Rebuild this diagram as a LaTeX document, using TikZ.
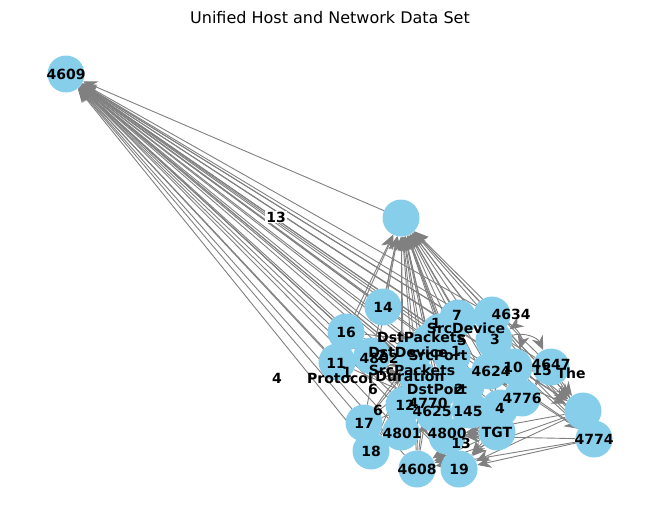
\documentclass[tikz,border=0pt]{standalone}
\usepackage{fontspec}
\setmainfont{DejaVu Sans}
\usetikzlibrary{arrows.meta}
\pgfdeclarelayer{bg}\pgfdeclarelayer{fg}
\pgfsetlayers{bg,main,fg}
\definecolor{sky}{HTML}{87CEEB}
\tikzset{
  nd/.style={circle,fill=sky,minimum size=37pt,inner sep=0pt},
  lb/.style={font=\fontsize{14}{15}\selectfont\bfseries,inner sep=0pt},
  ed/.style={draw=gray,line width=0.9pt,-{Stealth[length=14pt,width=12pt]}},
  el/.style={font=\fontsize{14}{15}\selectfont\bfseries,fill=white,inner sep=1pt}
}
\begin{document}
\begin{tikzpicture}[x=1pt,y=-1pt]
\useasboundingbox (0,0) rectangle (660,522);
\node[font=\fontsize{16}{18}\selectfont] (title) at (330,18) {Unified Host and Network Data Set};
% circles
\node[nd] (a4609) at (66,74) {};
\node[nd] (T) at (401,218) {};
\node[nd] (a14) at (383,307) {};
\node[nd] (a16) at (346,332) {};
\node[nd] (a11) at (337,362) {};
\node[nd] (a4802) at (372,356) {};
\node[nd] (a17) at (364,423) {};
\node[nd] (a18) at (371,451) {};
\node[nd] (a4608) at (417,469) {};
\node[nd] (a19) at (459,469) {};
\node[nd] (a4800) at (447,436) {};
\node[nd] (a4801) at (401,432) {};
\node[nd] (aTGT) at (497,432) {};
\node[nd] (a4774) at (594,439) {};
\node[nd] (B2) at (583,411) {};
\node[nd] (a4776) at (522,398) {};
\node[nd] (a4647) at (551,367) {};
\node[nd] (a10) at (514,367) {};
\node[nd] (a4624) at (490,371) {};
\node[nd] (a4634) at (492,315) {};
\node[nd] (a7) at (458,318) {};
\node[nd] (aSD) at (440,332) {};
\node[nd] (a3) at (494,340) {};
\node[nd] (aDP) at (430,342) {};
\node[nd] (aSP) at (452,356) {};
\node[nd] (aDD) at (412,356) {};
\node[nd] (aSPk) at (418,378) {};
\node[nd] (aDPo) at (440,389) {};
\node[nd] (a2) at (466,386) {};
\node[nd] (a4770) at (428,403) {};
\node[nd] (a12) at (404,405) {};
\node[nd] (a145) at (470,410) {};
\node[nd] (a4) at (500,408) {};
\node[nd] (a4625) at (434,413) {};
% edges
\begin{pgfonlayer}{bg}
\foreach \s in {a14,a16,a11,a4802,a17,a18,a4608,a19,a4800,a4801,aTGT,a4774,B2,a4776,a4647,a10,a4624,a4634,a7,aSD,a3,aDP,aSP,aDD,aSPk,aDPo,a2,a4770,a12,a145,a4,a4625,T}
  \draw[ed] (\s) -- (a4609);
\foreach \s in {a14,a16,a11,a4802,a17,a4801,a4800,aTGT,a4774,B2,a4776,a4647,a10,a4624,a4634,a7,aSD,a3,aDP,aSP,aDD,aSPk,aDPo,a2,a4770,a12,a145,a4,a4625}
  \draw[ed] (\s) -- (T);
\foreach \s in {a4774,B2,aTGT,a4776}
  \foreach \t in {a19,a4608,a4800}
    \draw[ed] (\s) -- (\t);
\foreach \s in {a16,a11,a17,a18,a4801,a4608,a12}
  \foreach \t in {aDD,aDP,aSPk,a4770}
    \draw[ed] (\s) -- (\t);
\foreach \s in {a4624,a10,a4647,a4634,a3}
  \foreach \t in {a4776,B2,a4774,aTGT}
    \draw[ed] (\s) -- (\t);
\draw[ed] (a4634) to[bend left=60] (a3);
\draw[ed] (a4634) to[bend left=40] (a10);
\draw[ed] (a3) to[bend left=40] (a4647);
\end{pgfonlayer}
% labels
\begin{pgfonlayer}{fg}
\node[lb] at (66,74) {4609};
\node[lb] at (383,307) {14};
\node[lb] at (346,332) {16};
\node[lb] at (336,363) {11};
\node[lb] at (379,358) {4802};
\node[lb] at (347,372) {1};
\node[lb] at (340,378) {Protocol};
\node[lb] at (364,423) {17};
\node[lb] at (371,451) {18};
\node[lb] at (417,469) {4608};
\node[lb] at (459,469) {19};
\node[lb] at (447,433) {4800};
\node[lb] at (461,443) {13};
\node[lb] at (402,433) {4801};
\node[lb] at (497,432) {TGT};
\node[lb] at (594,439) {4774};
\node[lb] at (522,398) {4776};
\node[lb] at (500,408) {4};
\node[lb] at (551,364) {4647};
\node[lb] at (542,370) {15};
\node[lb] at (571,373) {The};
\node[lb] at (513,367) {10};
\node[lb] at (491,371) {4624};
\node[lb] at (511,314) {4634};
\node[lb] at (457,315) {7};
\node[lb] at (436,323) {1};
\node[lb] at (466,328) {SrcDevice};
\node[lb] at (495,339) {3};
\node[lb] at (462,340) {5};
\node[lb] at (421,337) {DstPackets};
\node[lb] at (408,352) {DstDevice};
\node[lb] at (438,355) {SrcPort};
\node[lb] at (456,351) {1};
\node[lb] at (382,355) {2};
\node[lb] at (412,370) {SrcPackets};
\node[lb] at (410,376) {Duration};
\node[lb] at (373,389) {6};
\node[lb] at (437,389) {DstPort};
\node[lb] at (459,389) {2};
\node[lb] at (378,410) {6};
\node[lb] at (405,405) {12};
\node[lb] at (428,403) {4770};
\node[lb] at (432,411) {4625};
\node[lb] at (468,411) {145};
\node[el] at (276,217) {13};
\node[el] at (277,378) {4};
\end{pgfonlayer}
\end{tikzpicture}
\end{document}
